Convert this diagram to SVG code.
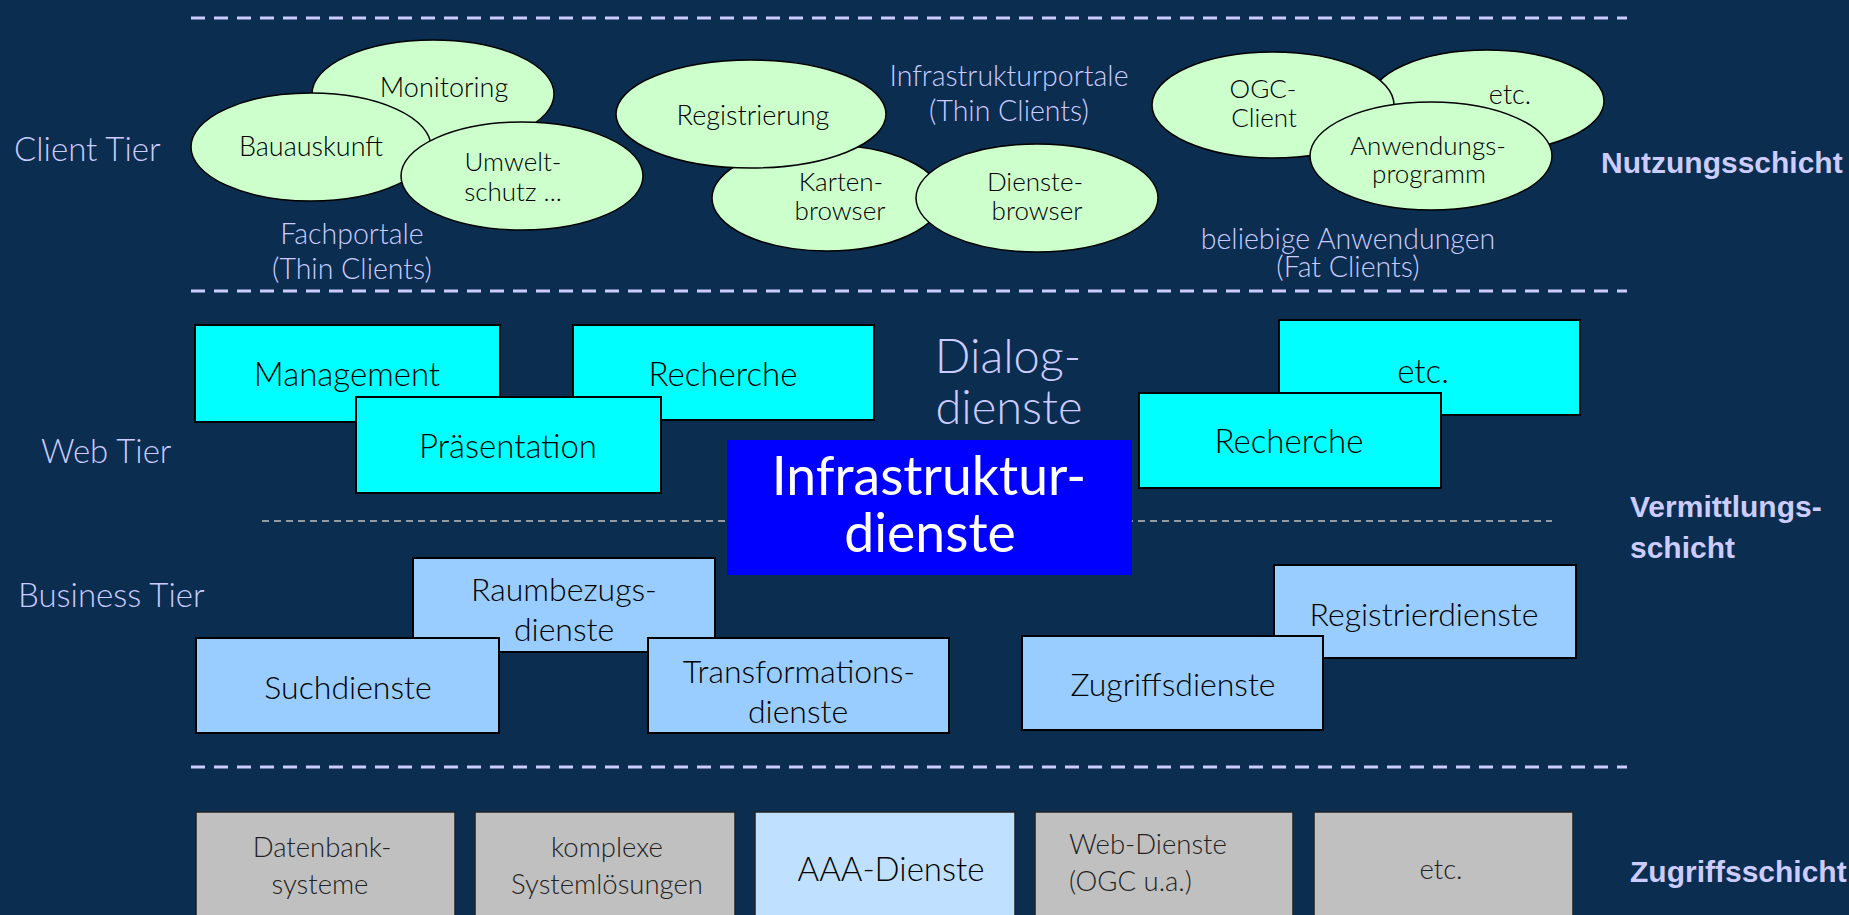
<svg xmlns="http://www.w3.org/2000/svg" width="1849" height="915" viewBox="0 0 1849 915">
<style>
text{font-family:Lato,"Liberation Sans",Arial,sans-serif;font-weight:300}
.lab{fill:#ccccff;font-size:33px}
.mid{fill:#ccccff;font-size:28.5px;text-anchor:middle}
.bold{fill:#ccccff;font-size:30px;font-weight:700;font-family:"Liberation Sans",Arial,sans-serif}
.el{fill:#ccffcc;stroke:#000;stroke-width:1.5}
.et{fill:#000;font-size:27px;text-anchor:middle}
.e2{fill:#000;font-size:26px;text-anchor:middle}
.web{fill:#00ffff;stroke:#000;stroke-width:2}
.biz{fill:#99ccff;stroke:#000;stroke-width:2}
.wt{fill:#000;font-size:33px;text-anchor:middle}
.bt{fill:#000;font-size:32px;text-anchor:middle}
.gray{fill:#c0c0c0;stroke:#222;stroke-width:1.5}
.gt{fill:#222;font-size:27.5px;text-anchor:middle}
.sep{stroke:#ccccff;stroke-width:3;stroke-dasharray:14 9;fill:none}
.sep2{stroke:#c0c0c0;stroke-width:1.5;stroke-dasharray:7 5;fill:none}
</style>
<rect x="0" y="0" width="1849" height="915" fill="#0a2d50"/>
<g id="separators">
<line class="sep" x1="191" y1="18" x2="1627" y2="18"/>
<line class="sep" x1="191" y1="291" x2="1627" y2="291"/>
<line class="sep2" x1="262" y1="521" x2="1552" y2="521"/>
<line class="sep" x1="191" y1="767" x2="1627" y2="767"/>
</g>
<g id="labels">
<text class="lab" x="14" y="161">Client Tier</text>
<text class="lab" x="41" y="463">Web Tier</text>
<text class="lab" x="18" y="607">Business Tier</text>
<text class="bold" x="1601" y="173">Nutzungsschicht</text>
<text class="bold" x="1630" y="517">Vermittlungs-</text>
<text class="bold" x="1630" y="558">schicht</text>
<text class="bold" x="1630" y="882">Zugriffsschicht</text>
<text class="mid" x="352" y="244">Fachportale</text>
<text class="mid" x="352" y="279">(Thin Clients)</text>
<text class="mid" x="1009" y="86">Infrastrukturportale</text>
<text class="mid" x="1009" y="121">(Thin Clients)</text>
<text class="mid" x="1348" y="249">beliebige Anwendungen</text>
<text class="mid" x="1348" y="277">(Fat Clients)</text>
</g>
<g id="n-monitoring"><ellipse class="el" cx="433" cy="94" rx="121" ry="54"/><text class="et" x="444" y="97">Monitoring</text></g>
<g id="n-bauauskunft"><ellipse class="el" cx="311" cy="147" rx="120" ry="54"/><text class="et" x="311" y="156">Bauauskunft</text></g>
<g id="n-umwelt"><ellipse class="el" cx="522" cy="176" rx="121" ry="54"/><text class="e2" x="513" y="171">Umwelt-</text><text class="e2" x="513" y="201">schutz ...</text></g>
<g id="n-karten"><ellipse class="el" cx="827" cy="198" rx="115" ry="53"/><text class="e2" x="841" y="191">Karten-</text><text class="e2" x="840" y="220">browser</text></g>
<g id="n-registrierung"><ellipse class="el" cx="751" cy="114" rx="135" ry="54"/><text class="et" x="753" y="125">Registrierung</text></g>
<g id="n-dienstebrowser"><ellipse class="el" cx="1037" cy="198" rx="121" ry="54"/><text class="e2" x="1035" y="191">Dienste-</text><text class="e2" x="1037" y="220">browser</text></g>
<g id="n-etc-client"><ellipse class="el" cx="1487" cy="101" rx="117" ry="51"/><text class="et" x="1510" y="104">etc.</text></g>
<g id="n-ogc"><ellipse class="el" cx="1273" cy="105" rx="121" ry="53"/><text class="e2" x="1263" y="98">OGC-</text><text class="e2" x="1264" y="127">Client</text></g>
<g id="n-anwendung"><ellipse class="el" cx="1431" cy="156" rx="121" ry="54"/><text class="e2" x="1428" y="155">Anwendungs-</text><text class="e2" x="1429" y="183">programm</text></g>
<g id="n-management"><rect class="web" x="195" y="325" width="305" height="97"/><text class="wt" x="347" y="386">Management</text></g>
<g id="n-recherche1"><rect class="web" x="573" y="325" width="301" height="95"/><text class="wt" x="723" y="386">Recherche</text></g>
<g id="n-praesentation"><rect class="web" x="356" y="397" width="305" height="96"/><text class="wt" x="508" y="458">Präsentation</text></g>
<g id="n-etc-web"><rect class="web" x="1279" y="320" width="301" height="95"/><text class="wt" x="1423" y="383">etc.</text></g>
<g id="n-recherche2"><rect class="web" x="1139" y="393" width="302" height="95"/><text class="wt" x="1289" y="453">Recherche</text></g>
<g id="n-dialog"><text x="1008" y="373" style="fill:#ccccff;font-size:47px;text-anchor:middle">Dialog-</text><text x="1009" y="424" style="fill:#ccccff;font-size:47px;text-anchor:middle">dienste</text></g>
<g id="n-infra"><rect x="727" y="440" width="405" height="135" fill="#0000ff"/><text x="929" y="495" style="fill:#fff;font-size:53.5px;text-anchor:middle;font-weight:400">Infrastruktur-</text><text x="930" y="552" style="fill:#fff;font-size:53.5px;text-anchor:middle;font-weight:400">dienste</text></g>
<g id="n-raumbezug"><rect class="biz" x="413" y="558" width="302" height="94"/><text class="bt" x="564" y="601">Raumbezugs-</text><text class="bt" x="564" y="641">dienste</text></g>
<g id="n-such"><rect class="biz" x="196" y="638" width="303" height="95"/><text class="bt" x="348" y="699">Suchdienste</text></g>
<g id="n-trans"><rect class="biz" x="648" y="638" width="301" height="95"/><text class="bt" x="799" y="683">Transformations-</text><text class="bt" x="798" y="723">dienste</text></g>
<g id="n-registrier"><rect class="biz" x="1274" y="565" width="302" height="93"/><text class="bt" x="1424" y="626">Registrierdienste</text></g>
<g id="n-zugriff"><rect class="biz" x="1022" y="636" width="301" height="94"/><text class="bt" x="1173" y="696">Zugriffsdienste</text></g>
<g id="n-datenbank"><rect class="gray" x="196" y="812" width="259" height="110"/><text class="gt" x="322" y="857">Datenbank-</text><text class="gt" x="320" y="894">systeme</text></g>
<g id="n-komplex"><rect class="gray" x="475" y="812" width="260" height="110"/><text class="gt" x="607" y="857">komplexe</text><text class="gt" x="607" y="894">Systemlösungen</text></g>
<g id="n-aaa"><rect x="755" y="812" width="260" height="110" fill="#bfe0ff" stroke="#222" stroke-width="1.5"/><text x="891" y="881" style="fill:#000;font-size:33px;text-anchor:middle">AAA-Dienste</text></g>
<g id="n-webdienste"><rect class="gray" x="1035" y="812" width="258" height="110"/><text class="gt" x="1069" y="854" style="text-anchor:start">Web-Dienste</text><text class="gt" x="1069" y="891" style="text-anchor:start">(OGC u.a.)</text></g>
<g id="n-etc-access"><rect class="gray" x="1314" y="812" width="259" height="110"/><text class="gt" x="1441" y="879">etc.</text></g>
<g id="connectors"></g>
</svg>
